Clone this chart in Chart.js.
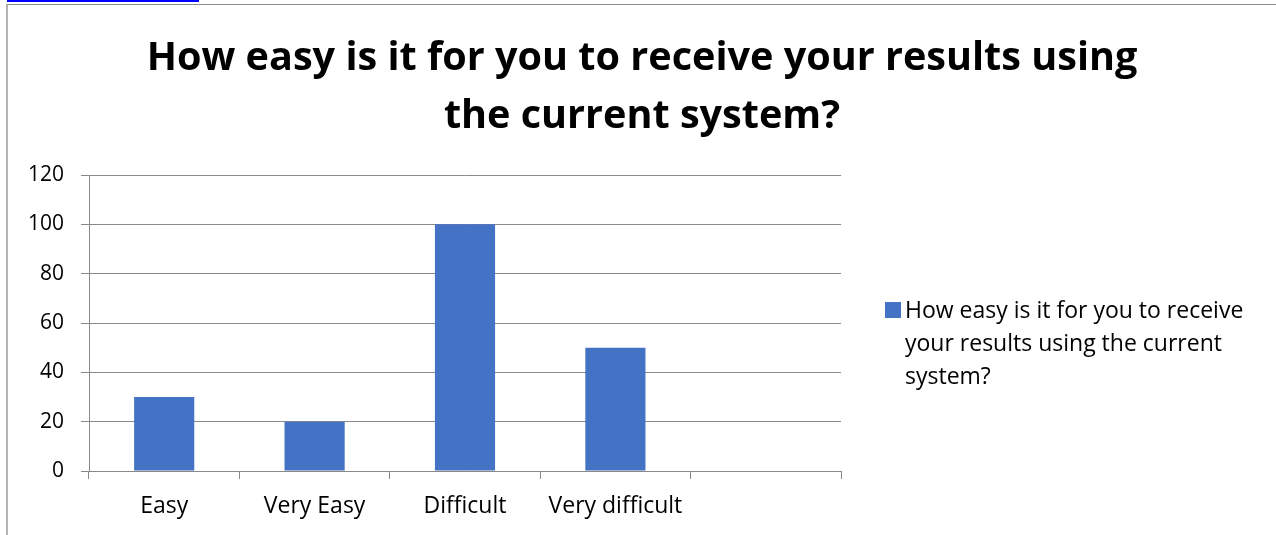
<!DOCTYPE html>
<html>
<head>
<meta charset="utf-8">
<script src="https://cdn.jsdelivr.net/npm/chart.js@4/dist/chart.umd.min.js"></script>
<style>
  html, body { margin: 0; padding: 0; background: #fff; }
  body { width: 1276px; height: 535px; position: relative; overflow: hidden; }
  #link { position: absolute; left: 7px; top: 0; width: 192px; height: 2px; background: #0000ff; }
  #frame { position: absolute; left: 6px; top: 4px; right: 0; bottom: 0; border-left: 2px solid #b4b4b4; border-top: 1px solid #8c8c8c; }
  #wrap { position: absolute; left: 0; top: 0; width: 1276px; height: 535px; }
</style>
</head>
<body>
<div id="link"></div>
<div id="frame"></div>
<div id="wrap"><canvas id="myChart" width="1276" height="535"></canvas></div>
<script>
var categories = ['Easy', 'Very Easy', 'Difficult', 'Very difficult', ''];
var responses = [30, 20, 100, 50, null];
var yTicks = [0, 20, 40, 60, 80, 100, 120];
var seriesName = 'How easy is it for you to receive your results using the current system?';
var legendLines = ['How easy is it for you to receive', 'your results using the current', 'system?'];
var titleLines = ['How easy is it for you to receive your results using', 'the current system?'];

var FONT = '"Open Sans", "Noto Sans", sans-serif';
var barColor = '#4472C4';
var gridColor = '#898989';

// title over the whole picture and legend beside the plot, wrapped like the original
var extraText = {
    id: 'extraText',
    afterDraw: function(chart) {
        var c = chart.ctx;
        c.save();
        c.fillStyle = '#000';
        c.textBaseline = 'middle';
        c.textAlign = 'center';
        c.font = 'bold 39.6px ' + FONT;
        for (var t = 0; t < titleLines.length; t++) {
            c.fillText(titleLines[t], 642, 59 + t * 58);
        }
        c.fillStyle = barColor;
        c.fillRect(885, 302, 16, 16);
        c.fillStyle = '#000';
        c.font = '23px ' + FONT;
        c.textAlign = 'left';
        for (var i = 0; i < legendLines.length; i++) {
            c.fillText(legendLines[i], 905, 311 + i * 33);
        }
        c.restore();
    }
};

var ctx = document.getElementById('myChart').getContext('2d');
var myChart = new Chart(ctx, {
    type: 'bar',
    data: {
        labels: categories,
        datasets: [{
            label: seriesName,
            data: responses,
            backgroundColor: barColor,
            borderWidth: 0,
            barPercentage: 0.4,
            categoryPercentage: 1
        }]
    },
    options: {
        responsive: false,
        animation: false,
        layout: {
            padding: { top: 175, left: 0, right: 435, bottom: 0 }
        },
        plugins: {
            legend: { display: false },
            tooltip: { enabled: false },
            title: { display: false }
        },
        scales: {
            x: {
                grid: {
                    offset: true,
                    drawOnChartArea: false,
                    drawTicks: true,
                    tickLength: 8,
                    color: gridColor
                },
                border: { color: gridColor },
                ticks: {
                    color: '#000',
                    padding: 14,
                    maxRotation: 0,
                    font: { family: FONT, size: 23 }
                },
                afterFit: function(scale) { scale.height = 64; }
            },
            y: {
                min: 0,
                max: 120,
                afterBuildTicks: function(scale) {
                    scale.ticks = yTicks.map(function(v) { return { value: v }; });
                },
                grid: {
                    color: gridColor,
                    tickLength: 8
                },
                border: { color: gridColor },
                ticks: {
                    color: '#000',
                    padding: 17,
                    font: { family: FONT, size: 21 }
                },
                afterFit: function(scale) { scale.width = 89; }
            }
        }
    },
    plugins: [extraText]
});
</script>
</body>
</html>
